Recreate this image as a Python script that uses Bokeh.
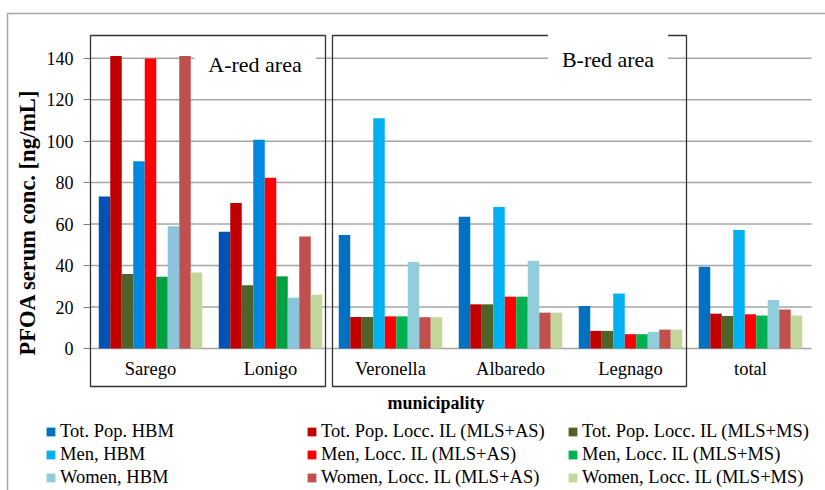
from bokeh.plotting import figure
from bokeh.models import (ColumnDataSource, Range1d, FixedTicker,
                          Legend, LegendItem, Label, PolyAnnotation)
from bokeh.transform import dodge
from bokeh.embed import file_html
from bokeh.resources import INLINE

# ---------------- data ----------------
municipalities = ["Sarego", "Lonigo", "Veronella", "Albaredo", "Legnago", "total"]
a_area = ["Sarego", "Lonigo"]

tot_pop_hbm = [73.3, 56.3, 54.7, 63.5, 20.5, 39.4]
tot_pop_as = [141.1, 70.2, 15.2, 21.3, 8.5, 16.8]
tot_pop_ms = [35.9, 30.5, 15.2, 21.3, 8.5, 15.7]
men_hbm = [90.3, 100.7, 111.0, 68.2, 26.5, 57.2]
men_as = [139.8, 82.3, 15.5, 25.0, 6.9, 16.5]
men_ms = [34.6, 34.8, 15.5, 25.0, 6.9, 15.9]
women_hbm = [59.0, 24.5, 41.7, 42.3, 8.0, 23.4]
women_as = [141.1, 54.0, 15.1, 17.3, 9.1, 18.8]
women_ms = [36.7, 26.0, 15.1, 17.3, 9.1, 15.9]

series_labels = [
    "Tot. Pop. HBM", "Tot. Pop. Locc. IL (MLS+AS)", "Tot. Pop. Locc. IL (MLS+MS)",
    "Men, HBM", "Men, Locc. IL (MLS+AS)", "Men, Locc. IL (MLS+MS)",
    "Women, HBM", "Women, Locc. IL (MLS+AS)", "Women, Locc. IL (MLS+MS)",
]
series_values = [tot_pop_hbm, tot_pop_as, tot_pop_ms, men_hbm, men_as, men_ms,
                 women_hbm, women_as, women_ms]
y_ticks = [0, 20, 40, 60, 80, 100, 120, 140]

# ---------------- styles ----------------
colors = ["#0070C0", "#C00000", "#4F6228", "#00B0F0", "#FF0000", "#00B050",
          "#92CDDC", "#C0504D", "#C4D79B"]
colors_a = ["#0052B4", "#C00000", "#4F6228", "#0088E0", "#FF0000", "#00A040",
            "#8CC4DC", "#C0504D", "#C4D79B"]
FONT = "Liberation Serif"
GRID = "#A6A6A6"
BOX = "#333333"

n = len(municipalities)
data = {"muni": municipalities, "xc": [i + 0.5 for i in range(n)]}
for k, vals in enumerate(series_values):
    data[f"s{k}"] = vals
    data[f"c{k}"] = [colors_a[k] if m in a_area else colors[k] for m in municipalities]
source = ColumnDataSource(data)
legend_index = municipalities.index("Veronella")  # a point with the standard colour

# one category = 120 px, value 0 at 348 px, 140 at 57.7 px
PX_CAT = 120.0
PX_VAL = 290.3 / 140
x_start = -90 / PX_CAT
p = figure(x_range=Range1d(x_start, x_start + 825 / PX_CAT),
           y_range=Range1d(-(490 - 348) / PX_VAL, 348 / PX_VAL),
           width=825, height=490, min_border=0,
           output_backend="svg", toolbar_location=None,
           outline_line_color=None, background_fill_color="white",
           border_fill_color="white")

# gridlines
grid_src = ColumnDataSource({"y": y_ticks})
p.segment(x0=0, x1=n + 1 / PX_CAT, y0="y", y1="y", source=grid_src,
          line_color=GRID, line_width=1.5, level="underlay")

bar_w = 11.5 / PX_CAT
renderers = []
for k in range(9):
    r = p.vbar(x=dodge("xc", (k - 4) * bar_w), top=f"s{k}",
               width=bar_w, source=source, fill_color=f"c{k}", line_color=None)
    renderers.append(r)

p.xgrid.visible = False
p.ygrid.visible = False

# y axis at x = 0
yax = p.yaxis[0]
yax.fixed_location = 0
yax.bounds = (-18.3, 140)
yax.ticker = FixedTicker(ticks=y_ticks)
yax.minor_tick_line_color = None
yax.major_tick_out = 7
yax.major_tick_in = 0
yax.major_tick_line_color = "#808080"
yax.axis_line_color = "#808080"
yax.major_label_text_font = FONT
yax.major_label_text_font_size = "18px"
yax.major_label_text_color = "black"
yax.major_label_standoff = 10
yax.axis_label = "PFOA serum conc. [ng/mL]"
yax.axis_label_text_font = FONT
yax.axis_label_text_font_style = "bold"
yax.axis_label_text_font_size = "22.5px"
yax.axis_label_text_color = "black"
yax.axis_label_standoff = 4

# x axis at y = 0
xax = p.xaxis[0]
xax.fixed_location = 0
xax.bounds = (0, 5.758)
xax.ticker = FixedTicker(ticks=data["xc"])
xax.major_label_overrides = {x: m for x, m in zip(data["xc"], municipalities)}
xax.minor_tick_line_color = None
xax.major_tick_out = 0
xax.major_tick_in = 0
xax.axis_line_color = None
xax.major_label_text_font = FONT
xax.major_label_text_font_size = "18.5px"
xax.major_label_text_color = "black"
xax.major_label_standoff = 10
xax.axis_label = "municipality"
xax.axis_label_text_font = FONT
xax.axis_label_text_font_style = "bold"
xax.axis_label_text_font_size = "18px"
xax.axis_label_text_color = "black"
xax.axis_label_standoff = 11

# area boxes
box_top = (348 - 35) / PX_VAL
box_bottom = (348 - 386) / PX_VAL
for left_px, right_px in [(90, 325), (332, 686)]:
    x0 = left_px / PX_CAT + x_start
    x1 = right_px / PX_CAT + x_start
    p.add_layout(PolyAnnotation(xs=[x0, x1, x1, x0],
                                ys=[box_bottom, box_bottom, box_top, box_top],
                                fill_alpha=0, line_color=BOX, line_alpha=1,
                                line_width=1.3))
# outer frame
ox = 7 / PX_CAT + x_start
oy = (348 - 13) / PX_VAL
p.add_layout(PolyAnnotation(xs=[ox, 10, 10, ox], ys=[-200, -200, oy, oy],
                            fill_alpha=0, line_color=GRID, line_alpha=1,
                            line_width=1.5))

p.add_layout(Label(x=254.5 / PX_CAT + x_start, y=137.0, text="A-red area",
                   text_align="center", text_baseline="middle", text_font=FONT,
                   text_font_size="22px", text_color="black",
                   background_fill_color="white", padding=14))
p.add_layout(Label(x=607.5 / PX_CAT + x_start, y=139.4, text="B-red area",
                   text_align="center", text_baseline="middle", text_font=FONT,
                   text_font_size="22px", text_color="black",
                   background_fill_color="white", padding=14))

# legends: three columns
col_px = [45, 306, 567]
for c in range(3):
    items = [LegendItem(label=series_labels[row * 3 + c],
                        renderers=[renderers[row * 3 + c]], index=legend_index)
             for row in range(3)]
    leg = Legend(items=items, location=(col_px[c], 2), orientation="vertical",
                 label_text_font=FONT, label_text_font_size="18.5px",
                 label_text_color="black",
                 glyph_width=11, glyph_height=11, label_standoff=4, spacing=2,
                 padding=0, margin=0, border_line_alpha=0, background_fill_alpha=0)
    p.add_layout(leg, "center")

open("out.html", "w").write(file_html(p, INLINE))
